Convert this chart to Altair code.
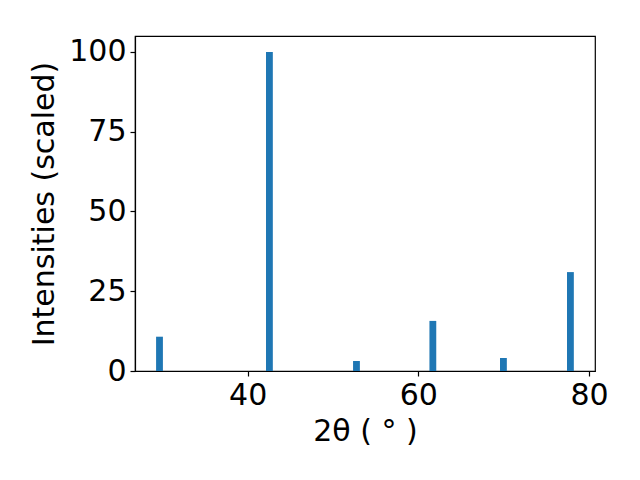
import altair as alt
import pandas as pd

two_theta = [29.67, 42.55, 52.75, 61.7, 69.97, 77.82]
intensity = [10.75, 100.0, 3.13, 15.7, 4.08, 31.0]
bar_half_width = 0.4

df = pd.DataFrame({"two_theta": two_theta, "intensity": intensity})
df["x0"] = df["two_theta"] - bar_half_width
df["x1"] = df["two_theta"] + bar_half_width

font = "DejaVu Sans"
fs = 30

common = dict(
    grid=False,
    labelFontSize=fs,
    titleFontSize=fs,
    labelFont=font,
    titleFont=font,
    titleFontWeight="normal",
    labelColor="black",
    titleColor="black",
    domainColor="black",
    tickColor="black",
    tickSize=5,
    domainWidth=1.2,
    tickWidth=1.2,
)

bars = alt.Chart(df).mark_rect(color="#1f77b4").encode(
    x=alt.X(
        "x0:Q",
        scale=alt.Scale(domain=[26.8, 80.7], nice=False, zero=False),
        axis=alt.Axis(values=[40, 60, 80], title="2θ ( ° )",
                      labelPadding=4, titlePadding=6, **common),
    ),
    x2="x1:Q",
    y=alt.Y(
        "intensity:Q",
        scale=alt.Scale(domain=[0, 105], nice=False),
        axis=alt.Axis(values=[0, 25, 50, 75, 100], title="Intensities (scaled)",
                      labelPadding=4, titlePadding=9, **common),
    ),
    y2=alt.datum(0),
)

chart = bars.properties(
    width=460,
    height=335,
    background="white",
    autosize=alt.AutoSizeParams(type="none"),
    padding={"left": 127, "top": 28, "right": 37, "bottom": 101},
).configure_view(stroke="black", strokeWidth=1.2)

chart.save("out.html", embed_options={"renderer": "svg", "actions": False})
